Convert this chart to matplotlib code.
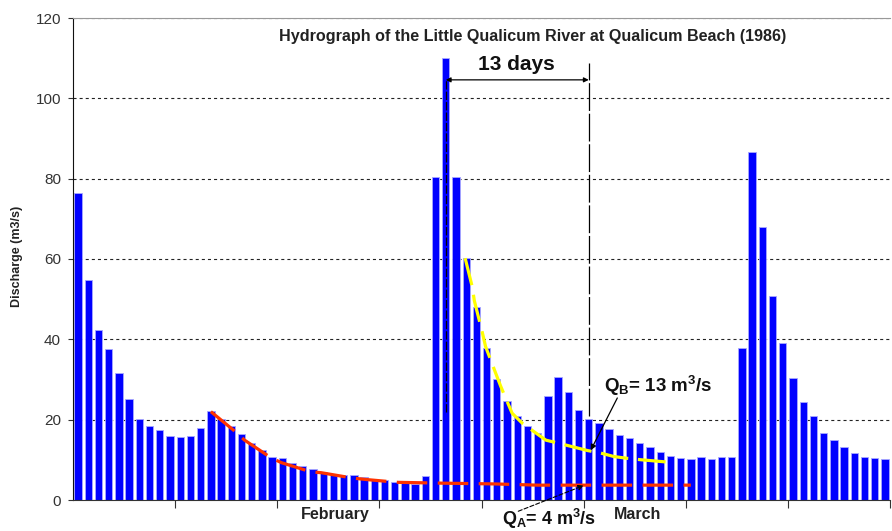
import matplotlib
matplotlib.use('Agg')
import matplotlib.pyplot as plt
import numpy as np

plt.rcParams['font.family'] = ['Liberation Sans', 'DejaVu Sans']
plt.rcParams['mathtext.fontset'] = 'custom'
plt.rcParams['mathtext.rm'] = 'Liberation Sans:bold'
plt.rcParams['mathtext.it'] = 'Liberation Sans:bold'
plt.rcParams['mathtext.bf'] = 'Liberation Sans:bold'
plt.rcParams['lines.scale_dashes'] = False

# ---- data (daily discharge, m3/s) ----
discharge = [76.5, 54.7, 42.2, 37.6, 31.7, 25.1, 20.2, 18.5, 17.5, 16.0,
             15.7, 16.0, 17.9, 22.2, 20.1, 18.3, 16.4, 14.2, 12.5, 10.8,
             10.4, 9.1, 8.5, 7.6, 6.9, 6.5, 6.2, 6.2, 5.7, 5.1,
             5.0, 4.6, 4.6, 4.1, 6.0, 80.3, 110.0, 80.3, 60.2, 48.1,
             37.9, 30.1, 24.6, 21.0, 18.4, 16.8, 26.0, 30.5, 26.8, 22.4,
             20.1, 19.1, 17.6, 16.3, 15.4, 14.1, 13.1, 11.9, 11.0, 10.5,
             10.2, 10.6, 10.3, 10.6, 10.8, 37.9, 86.7, 67.9, 50.7, 39.0,
             30.4, 24.5, 20.8, 16.8, 14.9, 13.1, 11.8, 10.8, 10.5, 10.3]

month_labels = ['February', 'March']
month_label_pos = [25.2, 54.8]
y_ticks = [0, 20, 40, 60, 80, 100, 120]

# baseflow recession (red)
recession_a_x = [13.0, 15.5, 16.3, 18.9, 19.9, 22.8, 23.8, 26.1, 27.1, 28.2,
                 31.3, 35.5, 40.8, 45.0, 60.0]
recession_a_y = [22.0, 16.8, 14.9, 10.5, 9.3, 7.0, 6.8, 5.8, 5.4, 5.1,
                 4.4, 4.2, 4.0, 3.7, 3.7]

# storm recession (yellow)
recession_b_x = [37.9, 38.6, 38.8, 39.6, 39.9, 40.9, 41.4, 42.5, 43.5, 45.8,
                 46.8, 49.9, 51.0, 52.5, 54.0, 55.2, 57.9]
recession_b_y = [60.2, 53.0, 49.6, 41.5, 38.2, 31.5, 28.2, 21.6, 19.1, 14.9,
                 14.3, 12.3, 11.8, 10.8, 10.3, 10.0, 9.4]

peak_day = 36
end_day = 50

fig = plt.figure(figsize=(8.92, 5.31), dpi=100)
ax = fig.add_axes([73 / 892, 31 / 531, 817 / 892, 482 / 531])

x = np.arange(len(discharge))
ax.bar(x, discharge, width=0.72, color='#0000FF', edgecolor='#A8A8FF',
       linewidth=0.6, zorder=2)

ax.set_xlim(-0.5, len(discharge) - 0.5)
ax.set_ylim(0, 120)

ax.set_axisbelow(True)
ax.yaxis.grid(True, color='#222222', linestyle=(0, (2.2, 2.2)), linewidth=0.8)
ax.set_yticks(y_ticks)
ax.tick_params(axis='y', direction='out', length=3.6, width=0.8, pad=5,
               labelsize=11, labelcolor='#333333', color='#333333')

ax.set_xticks(np.arange(9.5, len(discharge), 10))
ax.set_xticklabels([])
ax.tick_params(axis='x', which='major', direction='out', length=5.5, width=0.8,
               color='#333333')
ax.set_xticks(month_label_pos, minor=True)
ax.set_xticklabels(month_labels, minor=True, fontsize=11.5, fontweight='bold',
                   color='#222222')
ax.tick_params(axis='x', which='minor', length=0, pad=5)

ax.spines['right'].set_visible(False)
ax.spines['top'].set_color('#999999')
ax.spines['left'].set_color('#111111')
ax.spines['bottom'].set_color('#333333')

# recession curves
ax.plot(recession_a_x, recession_a_y, color='#FF3300', lw=2.3,
        dashes=(22, 7.5), zorder=3, solid_capstyle='butt')
ax.plot(recession_b_x, recession_b_y, color='#FFFF00', lw=2.3,
        dashes=(20, 7), zorder=3)

# vertical markers
ax.plot([peak_day, peak_day], [21.9, 104.6], color='black', lw=0.9,
        dashes=(6, 1.5), zorder=4)
ax.plot([end_day, end_day], [21.0, 108.8], color='black', lw=0.9,
        dashes=(20, 2), zorder=4)

# 13 days arrow
ax.annotate('', xy=(end_day, 104.6), xytext=(peak_day, 104.6),
            arrowprops=dict(arrowstyle='<|-|>', color='black', lw=0.9,
                            mutation_scale=7, shrinkA=0, shrinkB=0), zorder=5)
ax.text(42.9, 107.0, '13 days', ha='center', va='baseline', fontsize=15,
        fontweight='bold', color='#111111')

# Q_B annotation
ax.text(51.5, 27.0, r'Q$_\mathrm{B}$= 13 m$^\mathrm{3}$/s', ha='left',
        va='baseline', fontsize=13.5, fontweight='bold', color='#111111')
ax.annotate('', xy=(50.2, 12.4), xytext=(52.8, 25.4),
            arrowprops=dict(arrowstyle='-|>', color='black', lw=0.9,
                            mutation_scale=8, shrinkA=0, shrinkB=0))

# Q_A annotation
ax.text(41.5, -6.2, r'Q$_\mathrm{A}$= 4 m$^\mathrm{3}$/s', ha='left',
        va='baseline', fontsize=13, fontweight='bold', color='#111111',
        clip_on=False)
ax.annotate('', xy=(49.5, 3.6), xytext=(43.1, -2.8),
            arrowprops=dict(arrowstyle='-|>', color='black', lw=0.8,
                            linestyle=(0, (3, 1.5)),
                            mutation_scale=8, shrinkA=0, shrinkB=0),
            annotation_clip=False)

# title
ax.text(44.5, 114.3, 'Hydrograph of the Little Qualicum River at Qualicum Beach (1986)',
        ha='center', va='baseline', fontsize=11.6, fontweight='bold',
        color='#222222')

fig.text(17 / 892, 1 - 256 / 531, 'Discharge (m3/s)', rotation=90,
         fontsize=9, fontweight='bold', ha='center', va='center',
         color='#222222')

fig.savefig('out.png', dpi=100)
